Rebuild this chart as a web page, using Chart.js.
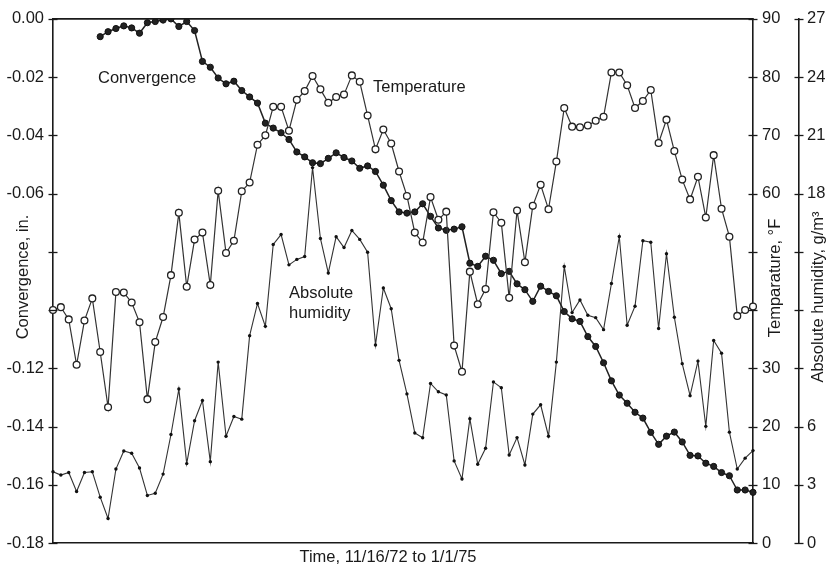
<!DOCTYPE html>
<html><head><meta charset="utf-8">
<script src="https://cdn.jsdelivr.net/npm/chart.js@4"></script>
<style>html,body{margin:0;padding:0;background:#fff}#wrap{width:831px;height:569px}</style>
</head><body><div id="wrap"><canvas id="c" width="831" height="569"></canvas></div>
<script>
// Convergence, in. (left axis); null = no measurement yet
const convergence = [null,null,null,null,null,null,
 -0.0061,-0.0044,-0.0033,-0.0024,-0.0031,-0.0049,-0.0013,-0.0009,-0.0004,0.0000,
 -0.0026,-0.0009,-0.0040,-0.0146,-0.0166,-0.0203,-0.0223,-0.0214,-0.0246,-0.0268,
 -0.0289,-0.0358,-0.0375,-0.0391,-0.0414,-0.0457,-0.0474,-0.0494,-0.0497,-0.0479,
 -0.0460,-0.0476,-0.0488,-0.0513,-0.0505,-0.0524,-0.0571,-0.0624,-0.0663,-0.0667,
 -0.0663,-0.0635,-0.0678,-0.0718,-0.0726,-0.0722,-0.0714,-0.0839,-0.0850,-0.0815,
 -0.0829,-0.0875,-0.0867,-0.0910,-0.0930,-0.0970,-0.0918,-0.0936,-0.0951,-0.1005,
 -0.1030,-0.1039,-0.1091,-0.1125,-0.1181,-0.1243,-0.1292,-0.1320,-0.1351,-0.1371,
 -0.1420,-0.1461,-0.1433,-0.1419,-0.1453,-0.1499,-0.1501,-0.1526,-0.1537,-0.1558,
 -0.1569,-0.1618,-0.1618,-0.1626];
// Temperature, °F
const temperature = [40.0,40.5,38.4,30.6,38.2,42.0,32.8,23.3,43.1,43.0,
 41.3,37.9,24.7,34.5,38.8,46.0,56.7,44.0,52.1,53.3,
 44.3,60.5,49.8,51.9,60.4,61.9,68.4,70.0,74.9,74.9,
 70.8,76.1,77.6,80.2,77.9,75.6,76.6,77.0,80.3,79.2,
 73.4,67.6,71.0,68.6,63.8,59.6,53.3,51.6,59.4,55.5,
 56.9,33.9,29.4,46.6,41.0,43.6,56.8,55.0,42.1,57.1,
 48.2,57.9,61.5,57.3,65.5,74.7,71.5,71.4,71.7,72.5,
 73.2,80.8,80.8,78.6,74.7,75.9,77.8,68.7,72.7,67.3,
 62.4,59.0,62.9,55.9,66.6,57.4,52.6,39.0,40.0,40.6];
// Absolute humidity, g/m3
const humidity = [3.67,3.50,3.63,2.65,3.63,3.67,2.36,1.26,3.81,4.74,
 4.62,3.86,2.45,2.56,3.55,5.59,7.93,4.09,6.30,7.34,
 4.19,9.32,5.50,6.52,6.38,10.68,12.34,11.16,15.38,15.89,
 14.33,14.61,14.76,19.34,15.69,13.91,15.78,15.22,16.10,15.64,
 14.98,10.20,13.14,12.07,9.41,7.68,5.67,5.42,8.22,7.79,
 7.63,4.23,3.30,6.40,4.06,4.88,8.30,8.00,4.53,5.43,
 4.02,6.64,7.12,5.50,9.32,14.25,11.87,12.52,11.73,11.61,
 10.99,13.37,15.79,11.22,12.20,15.57,15.49,11.05,14.90,11.63,
 9.24,7.59,9.37,6.01,10.43,9.78,5.71,3.81,4.37,4.76];
const samples = temperature.map((_, i) => String(i + 1));

const convTickValues = [0,-0.02,-0.04,-0.06,-0.08,-0.10,-0.12,-0.14,-0.16,-0.18];
const convTickLabels = ['0.00','-0.02','-0.04','-0.06','','','-0.12','-0.14','-0.16','-0.18'];
const tempTickValues = [90,80,70,60,50,40,30,20,10,0];
const tempTickLabels = ['90','80','70','60','','','30','20','10','0'];
const humTickValues = [27,24,21,18,15,12,9,6,3,0];
const humTickLabels = ['27','24','21','18','','','','6','3','0'];

const FONT = '"Liberation Sans", Arial, Helvetica, sans-serif';
const INK = '#1a1a1a';

function labelFor(values, labels) {
  return function (v) {
    const j = values.findIndex(t => Math.abs(t - v) < 1e-6);
    return j < 0 ? '' : labels[j];
  };
}

const decor = {
  id: 'decor',
  afterDraw(chart) {
    const ctx = chart.ctx, a = chart.chartArea;
    ctx.save();
    ctx.strokeStyle = INK;
    ctx.lineWidth = 1.6;
    ctx.beginPath();
    ctx.moveTo(a.left - 0.5, a.top);
    ctx.lineTo(a.right + 0.5, a.top);
    ctx.stroke();
    // crossing tick marks
    ctx.lineWidth = 1.3;
    [['y', 'right'], ['yT', 'left'], ['yH', 'left']].forEach(([id, side]) => {
      const s = chart.scales[id];
      const x = s[side];
      s.ticks.forEach(t => {
        const py = Math.round(s.getPixelForValue(t.value)) + 0.5;
        ctx.beginPath();
        ctx.moveTo(x - 4.5, py);
        ctx.lineTo(x + 4.5, py);
        ctx.stroke();
      });
    });
    // axis titles
    ctx.fillStyle = INK;
    ctx.font = '16.5px ' + FONT;
    ctx.textAlign = 'center';
    ctx.textBaseline = 'middle';
    const vtext = (txt, cx, cy) => {
      ctx.save(); ctx.translate(cx, cy); ctx.rotate(-Math.PI / 2);
      ctx.fillText(txt, 0, 0); ctx.restore();
    };
    vtext('Convergence, in.', 23, 277);
    vtext('Temparature, \u00B0F', 775, 278);
    vtext('Absolute humidity, g/m\u00B3', 818, 297);
    ctx.fillText('Time, 11/16/72 to 1/1/75', 388, 557);
    // series labels
    ctx.textAlign = 'left';
    ctx.textBaseline = 'alphabetic';
    ctx.fillText('Convergence', 98, 83);
    ctx.fillText('Temperature', 373, 92);
    ctx.fillText('Absolute', 289, 298);
    ctx.fillText('humidity', 289, 318);
    ctx.restore();
  }
};

new Chart(document.getElementById('c'), {
  type: 'line',
  data: {
    labels: samples,
    datasets: [
      { label: 'Temperature', data: temperature, yAxisID: 'yT',
        borderColor: '#333', borderWidth: 1.2, pointRadius: 3.4, pointBorderWidth: 1.3,
        pointBackgroundColor: '#fff', pointBorderColor: '#222', tension: 0 },
      { label: 'Convergence', data: convergence, yAxisID: 'y',
        borderColor: '#222', borderWidth: 1.5, pointRadius: 3.1, pointBorderWidth: 1,
        pointBackgroundColor: '#222', pointBorderColor: '#111', tension: 0, spanGaps: false },
      { label: 'Absolute humidity', data: humidity, yAxisID: 'yH',
        borderColor: '#333', borderWidth: 1.1, pointRadius: 1.7, pointBorderWidth: 0,
        pointBackgroundColor: '#111', tension: 0 }
    ]
  },
  options: {
    responsive: false,
    devicePixelRatio: 1,
    animation: false,
    layout: { padding: { top: 13, left: 0, right: 0, bottom: 0 } },
    plugins: { legend: { display: false }, tooltip: { enabled: false } },
    scales: {
      x: {
        type: 'category', offset: false,
        grid: { display: false },
        border: { display: true, color: INK, width: 1.6 },
        ticks: { display: false },
        afterFit: s => { s.height = 26; }
      },
      y: {
        position: 'left', min: -0.18, max: 0,
        grid: { drawOnChartArea: false, drawTicks: false },
        border: { display: true, color: INK, width: 1.6 },
        ticks: { stepSize: 0.02, padding: 9, color: INK, font: { family: FONT, size: 16.5 },
                 callback: labelFor(convTickValues, convTickLabels), autoSkip: false },
        afterFit: s => { s.width = 53; }
      },
      yT: {
        position: 'right', weight: 0, min: 0, max: 90,
        grid: { drawOnChartArea: false, drawTicks: false },
        border: { display: true, color: INK, width: 1.6 },
        ticks: { stepSize: 10, padding: 9, color: INK, font: { family: FONT, size: 16.5 },
                 callback: labelFor(tempTickValues, tempTickLabels), autoSkip: false },
        afterFit: s => { s.width = 46; }
      },
      yH: {
        position: 'right', weight: 1, min: 0, max: 27,
        grid: { drawOnChartArea: false, drawTicks: false },
        border: { display: true, color: INK, width: 1.6 },
        ticks: { stepSize: 3, padding: 8, color: INK, font: { family: FONT, size: 16.5 },
                 callback: labelFor(humTickValues, humTickLabels), autoSkip: false },
        afterFit: s => { s.width = 32; }
      }
    }
  },
  plugins: [decor]
});
</script>
</body></html>
